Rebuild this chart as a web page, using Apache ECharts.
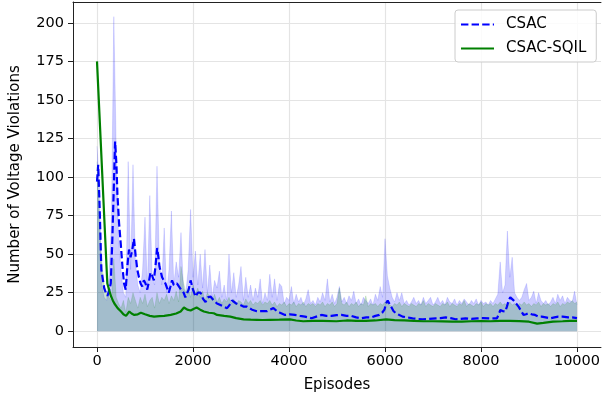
<!DOCTYPE html>
<html><head><meta charset="utf-8">
<script src="https://cdn.jsdelivr.net/npm/echarts@6/dist/echarts.min.js"></script>
<style>html,body{margin:0;padding:0;background:#fff}#c{width:603px;height:400px}</style>
</head><body><div id="c"></div>
<script>
// x tick labels / y tick labels
const xTicks = [0, 2000, 4000, 6000, 8000, 10000];
const yTicks = [0, 25, 50, 75, 100, 125, 150, 175, 200];
const seriesNames = ['CSAC', 'CSAC-SQIL'];

// raw episode values sampled every 50 episodes (0..10000)
const rawStep = 50;
const csacRaw = [120,95,30,22,20,35,70,204,120,60,40,25,22,110,40,108,45,30,25,40,
74,28,88,35,30,107,45,30,67,25,40,78,30,45,35,64,28,25,40,79,
35,52,30,50,28,53,25,43,22,33,28,39,22,30,20,50,25,38,22,30,
42,20,35,22,30,20,28,22,34,18,25,20,37,22,34,20,31,29,18,22,
20,29,18,24,19,22,17,21,27,18,20,17,22,19,25,20,34,19,24,18,
22,29,19,22,18,23,20,26,18,21,17,22,20,18,21,17,24,20,29,22,
60,36,28,22,19,25,20,25,18,20,17,19,22,18,20,17,22,18,20,22,
17,19,22,18,20,17,22,19,18,21,17,20,18,21,19,17,20,18,21,17,
20,18,19,17,20,18,21,24,45,25,30,65,35,48,25,22,20,22,27,31,
20,22,26,18,25,20,18,20,17,19,22,18,24,20,23,18,22,20,19,26,17];
const sqilRaw = [110,70,45,30,25,22,20,47,22,18,15,20,12,22,18,25,20,15,22,18,
24,16,20,22,15,25,18,22,20,24,18,23,20,26,19,42,32,25,28,22,
30,24,28,22,26,20,25,22,20,24,19,22,18,21,19,22,18,21,17,20,
19,17,21,18,20,17,19,18,20,17,19,18,20,17,19,16,18,17,19,16,
18,17,19,16,18,17,19,16,18,17,18,16,18,17,19,16,18,17,19,16,
18,28,18,17,19,16,18,17,19,16,18,17,23,16,18,17,18,16,18,17,
19,18,17,16,18,17,19,16,18,17,16,18,17,16,18,17,20,16,18,17,
16,18,17,16,18,17,19,16,18,17,16,18,17,20,16,18,17,16,18,17,
19,16,18,17,18,16,18,17,19,17,18,16,19,17,18,16,18,17,19,17,
18,16,18,17,19,16,18,17,18,16,18,17,19,16,18,17,19,18,20,18,19];

// smoothed curves
const csacEpisodes = [0,25,60,90,115,150,184,218,250,287,320,356,377,405,425,460,494,530,563,598,
632,667,700,736,770,805,840,874,908,942,977,1011,1046,1080,1115,1150,1184,1218,1253,1280,
1301,1356,1390,1425,1460,1495,1530,1563,1600,1632,1665,1700,1750,1805,1840,1874,1910,1950,2000,2054,
2100,2157,2210,2261,2310,2364,2433,2500,2571,2640,2710,2760,2813,2900,2985,3050,3124,3230,3331,3430,
3538,3600,3675,3750,3813,3917,4020,4124,4230,4331,4400,4470,4570,4677,4780,4884,4990,5091,5200,5298,
5400,5505,5612,5712,5800,5884,5940,5988,6022,6056,6090,6126,6180,6229,6300,6367,6470,6574,6680,6781,
6900,7058,7160,7265,7370,7472,7580,7679,7800,7919,8050,8196,8333,8370,8404,8460,8507,8540,8576,8610,
8644,8679,8730,8782,8840,8886,8940,8990,9060,9127,9196,9265,9350,9437,9530,9610,9700,9817,9900,10000];
const csacSmooth = [97,108,75,40,35,28,25,23,26,31,60,100,123,108,89,70,57,42,31,27,
42,53,48,53,60,49,40,35,31,29,33,31,27,32,38,36,33,42,54,48,
42,35,33,31,28,25,29,33,30,29,31,30,27,25,22,21,27,33,27,22.5,
25,25,21,19,22,22.5,20,18,17,16,15,17,20,18,17,16,16,14,13,13,
13,14,15,13,12,10.6,11,10.6,10,9.5,9,8.4,9.5,10.6,10,10,10.5,10.6,10,10,
9,8.4,9,9,10,10.6,12,14,18,20,18,16,13,11.7,10.5,9.5,9,8.4,8,7.8,
8,8.4,8.5,9,8.5,7.8,8,8.4,8,8.4,8.5,8.4,8.4,11,13.8,13,12.8,16,20,22,
22,20,18,16,13,10.6,11,11.7,11,10.6,9.5,9.5,9,8.4,9,9.5,9.5,9,9,8.5];

const sqilEpisodes = [0,215,260,294,330,362,430,501,550,605,640,673,720,777,850,915,1000,1100,1190,1300,
1400,1536,1650,1743,1812,1880,1950,2010,2075,2150,2226,2330,2433,2502,2650,2778,2900,3054,3200,3330,
3450,3607,3800,4021,4150,4296,4500,4700,4987,5200,5400,5600,5800,6022,6200,6400,6600,6800,7000,7200,
7400,7600,7800,8000,8200,8400,8600,8800,9000,9170,9300,9500,9700,9850,10000];
const sqilSmooth = [175,31,26,22.5,20,18,15,12.8,11,10,11,12.8,11.5,10.6,11,12,11,10,9.5,9.8,
10,10.6,11.5,12.8,15.4,14,13.5,14.5,15.4,14,12.8,12,11.7,10.6,10,9.5,8.5,7.7,7.5,7.4,
7.3,7.4,7.5,7.7,7,6.5,6.8,6.7,6.5,7,6.8,6.7,7,7.7,7.2,7,6.8,6.5,6.5,6.4,
6.3,6.3,6.5,6.6,6.5,6.8,6.8,6.6,6.2,5,5.5,6.3,6.5,6.8,6.8];

function pairs(xs, ys) { return ys.map((v, i) => [xs[i], v]); }
function rawPairs(ys) { return ys.map((v, i) => [i * rawStep, v]); }

const FONT = 'DejaVu Sans';
const chart = echarts.init(document.getElementById('c'), null, {renderer: 'canvas'});
chart.setOption({
  animation: false,
  backgroundColor: '#ffffff',
  textStyle: {fontFamily: FONT},
  grid: {left: 72, right: 0, top: 2, bottom: 53, show: false},
  legend: {
    data: seriesNames,
    orient: 'vertical',
    left: 455, top: 10,
    padding: [7, 10, 6, 5],
    itemWidth: 33, itemHeight: 14, itemGap: 9,
    itemStyle: {opacity: 0},
    backgroundColor: 'rgba(255,255,255,0.85)',
    borderColor: '#cccccc', borderWidth: 1, borderRadius: 3,
    textStyle: {fontFamily: FONT, fontSize: 15, color: '#000', padding: [0, 0, 0, 7]}
  },
  xAxis: [{
    type: 'value', min: -500, max: 10500,
    name: 'Episodes', nameLocation: 'middle', nameGap: 31,
    nameTextStyle: {fontFamily: FONT, fontSize: 15, color: '#000'},
    axisLine: {show: true, onZero: false, lineStyle: {color: '#222', width: 1}},
    axisTick: {show: true, inside: false, length: 5, customValues: xTicks, lineStyle: {color: '#222', width: 1}},
    axisLabel: {customValues: xTicks, margin: 7, fontFamily: FONT, fontSize: 14.5, color: '#000',
      formatter: v => String(v)},
    splitLine: {show: true, lineStyle: {color: '#e4e4e4', width: 1.2}}
  }, {
    type: 'value', position: 'top', min: -500, max: 10500,
    axisLine: {show: true, onZero: false, lineStyle: {color: '#222', width: 1}},
    axisTick: {show: false}, axisLabel: {show: false}, splitLine: {show: false}
  }],
  yAxis: {
    type: 'value', min: -10.2, max: 213.5,
    name: 'Number of Voltage Violations', nameLocation: 'middle', nameGap: 50, nameRotate: 90,
    nameTextStyle: {fontFamily: FONT, fontSize: 15, color: '#000'},
    axisLine: {show: true, onZero: false, lineStyle: {color: '#222', width: 1}},
    axisTick: {show: true, inside: false, length: 5, customValues: yTicks, lineStyle: {color: '#222', width: 1}},
    axisLabel: {customValues: yTicks, margin: 9, fontFamily: FONT, fontSize: 14.5, color: '#000',
      formatter: v => String(v)},
    splitLine: {show: true, lineStyle: {color: '#e4e4e4', width: 1.2}}
  },
  series: [
    {name: 'CSAC raw', type: 'line', data: rawPairs(csacRaw), symbol: 'none', silent: true,
     lineStyle: {color: '#0000ff', width: 0.6, opacity: 0.2},
     areaStyle: {color: '#0000ff', opacity: 0.2}},
    {name: 'CSAC', type: 'line', data: pairs(csacEpisodes, csacSmooth), symbol: 'none', silent: true,
     itemStyle: {color: '#0000ff'},
     lineStyle: {color: '#0000ff', width: 2.2, type: [7.4, 3.2]}},
    {name: 'CSAC-SQIL raw', type: 'line', data: rawPairs(sqilRaw), symbol: 'none', silent: true,
     lineStyle: {color: '#008000', width: 0.6, opacity: 0.2},
     areaStyle: {color: '#008000', opacity: 0.2}},
    {name: 'CSAC-SQIL', type: 'line', data: pairs(sqilEpisodes, sqilSmooth), symbol: 'none', silent: true,
     itemStyle: {color: '#008000'},
     lineStyle: {color: '#008000', width: 2.2}}
  ]
});
</script></body></html>
